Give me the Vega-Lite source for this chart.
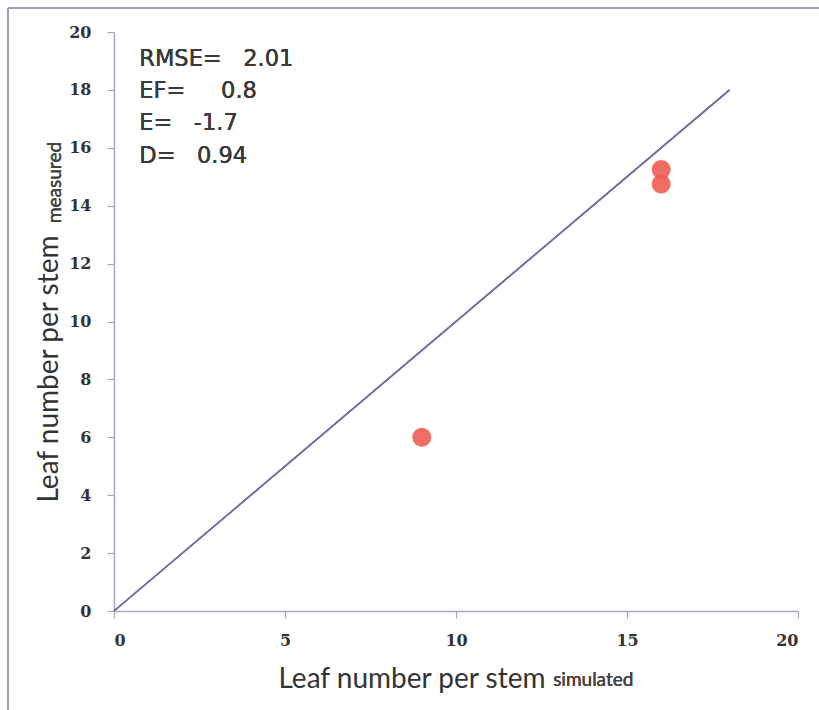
{
  "$schema": "https://vega.github.io/schema/vega-lite/v6.json",
  "width": 684,
  "height": 579,
  "autosize": {"type": "none"},
  "padding": {"left": 114, "top": 32, "right": 21, "bottom": 99},
  "background": "white",
  "config": {
    "view": {"stroke": null},
    "axis": {
      "grid": false,
      "domainColor": "#a9a6c8",
      "domainWidth": 1.5,
      "tickColor": "#a9a6c8",
      "tickWidth": 1.2,
      "tickSize": 7,
      "labelFont": "DejaVu Serif",
      "labelFontWeight": "bold",
      "labelFontSize": 16,
      "labelColor": "#333333",
      "titleFont": "Lato",
      "titleFontWeight": "normal",
      "titleColor": "#333333",
      "titleFontSize": 28
    }
  },
  "datasets": {
    "points": [
      {"simulated": 9, "measured": 6},
      {"simulated": 16, "measured": 15.25},
      {"simulated": 16, "measured": 14.75}
    ]
  },
  "data": {"name": "points"},
  "layer": [
    {
      "mark": {"type": "rule", "color": "#9d9cb0", "strokeWidth": 1.5, "clip": false},
      "encoding": {
        "x": {"datum": -3.1, "type": "quantitative"},
        "y": {"datum": 20.83, "type": "quantitative"},
        "y2": {"datum": -4}
      }
    },
    {
      "mark": {"type": "rule", "color": "#9d9cb0", "strokeWidth": 1.5, "clip": false},
      "encoding": {
        "x": {"datum": -3.1, "type": "quantitative"},
        "x2": {"datum": 22},
        "y": {"datum": 20.83, "type": "quantitative"}
      }
    },
    {
      "mark": {"type": "rule", "color": "#7671a8", "strokeWidth": 1.5},
      "encoding": {
        "x": {"datum": 0, "type": "quantitative"},
        "y": {"datum": 0, "type": "quantitative"},
        "x2": {"datum": 18},
        "y2": {"datum": 18}
      }
    },
    {
      "mark": {"type": "circle", "color": "#f0584f", "opacity": 0.88, "size": 360},
      "encoding": {
        "x": {
          "field": "simulated",
          "type": "quantitative",
          "scale": {"domain": [0, 20], "nice": false, "zero": false},
          "axis": {
            "values": [0, 5, 10, 15, 20],
            "labelPadding": 14,
            "title": "Leaf number per stem",
            "titleAlign": "left",
            "titleAnchor": "start",
            "titleBaseline": "alphabetic",
            "titleX": 164,
            "titleY": 76
          }
        },
        "y": {
          "field": "measured",
          "type": "quantitative",
          "scale": {"domain": [0, 20], "nice": false, "zero": false},
          "axis": {
            "values": [0, 2, 4, 6, 8, 10, 12, 14, 16, 18, 20],
            "labelPadding": 16,
            "title": "Leaf number per stem",
            "titleAngle": -90,
            "titleAlign": "left",
            "titleBaseline": "alphabetic",
            "titleX": -57,
            "titleY": 470
          }
        }
      }
    },
    {
      "mark": {"type": "text", "font": "Lato", "fontSize": 19, "color": "#444444", "align": "left", "baseline": "alphabetic", "clip": false},
      "encoding": {
        "x": {"datum": 12.84, "type": "quantitative"},
        "y": {"datum": -2.59, "type": "quantitative"},
        "text": {"value": "simulated"}
      }
    },
    {
      "mark": {"type": "text", "font": "Lato", "fontSize": 19, "color": "#444444", "align": "left", "baseline": "alphabetic", "angle": 270, "clip": false},
      "encoding": {
        "x": {"datum": -1.55, "type": "quantitative"},
        "y": {"datum": 13.4, "type": "quantitative"},
        "text": {"value": "measured"}
      }
    },
    {
      "mark": {"type": "text", "font": "DejaVu Sans", "fontSize": 22.5, "color": "#3a3a3a", "align": "left", "baseline": "alphabetic", "lineHeight": 32.3},
      "encoding": {
        "x": {"datum": 0.74, "type": "quantitative"},
        "y": {"datum": 18.83, "type": "quantitative"},
        "text": {"value": ["RMSE=\u00a0\u00a0\u00a02.01", "EF=\u00a0\u00a0\u00a0\u00a0\u00a00.8", "E=\u00a0\u00a0\u00a0-1.7", "D=\u00a0\u00a0\u00a00.94"]}
      }
    }
  ]
}
